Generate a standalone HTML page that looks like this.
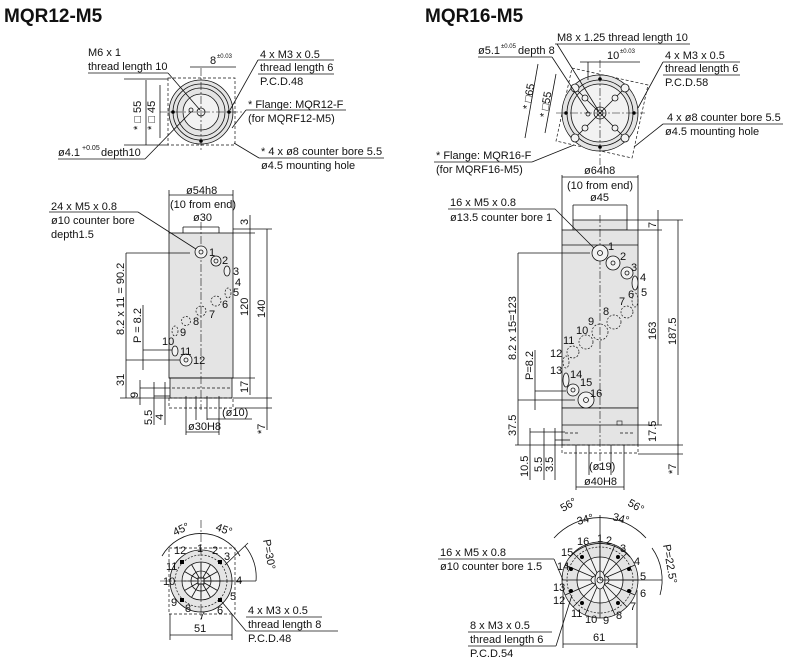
<!DOCTYPE html>
<html><head><meta charset="utf-8"><style>
html,body{margin:0;padding:0;background:#fff;}
svg{display:block;font-family:"Liberation Sans",sans-serif;}
text{font-size:11px;fill:#111;}
.t{font-size:19px;font-weight:bold;}
.l{stroke:#111;stroke-width:0.8;fill:none;}
.d{stroke:#111;stroke-width:0.7;fill:none;stroke-dasharray:3,2;}
.c{stroke:#111;stroke-width:0.6;fill:none;stroke-dasharray:8,2,2,2;}
.g{fill:#e4e4e4;stroke:#111;stroke-width:0.8;}
.h{fill:#f2f2f2;stroke:#111;stroke-width:0.8;}
.hd{fill:none;stroke:#111;stroke-width:0.7;stroke-dasharray:2,1.5;}
</style></head><body>
<svg width="794" height="667" viewBox="0 0 794 667" xmlns="http://www.w3.org/2000/svg">
<text class="t" x="4" y="22">MQR12-M5</text>
<text class="t" x="425" y="22">MQR16-M5</text>

<!-- ===== LEFT TOP VIEW ===== -->
<rect class="d" x="168" y="78" width="67" height="67"/>
<circle class="g" cx="201" cy="112" r="32"/>
<circle class="l" cx="201" cy="112" r="28"/>
<circle class="l" cx="201" cy="112" r="24"/>
<circle class="h" cx="201" cy="112" r="18"/>
<circle class="l" cx="201" cy="112" r="4"/>
<circle class="l" cx="191" cy="110" r="2"/>
<line class="c" x1="160" y1="112" x2="242" y2="112"/>
<line class="c" x1="201" y1="68" x2="201" y2="150"/>
<circle cx="173" cy="112" r="1.8"/><circle cx="229" cy="112" r="1.8"/><circle cx="201" cy="141" r="1.8"/>
<text x="88" y="56">M6 x 1</text><text x="88" y="70">thread length 10</text>
<line class="l" x1="88" y1="73" x2="168" y2="73"/><line class="l" x1="168" y1="73" x2="200" y2="110"/>
<text x="210" y="64">8</text><text x="217" y="58" style="font-size:6px">±0.03</text>
<line class="l" x1="190" y1="67" x2="236" y2="67"/>
<text x="260" y="58">4 x M3 x 0.5</text><text x="260" y="71">thread length 6</text><text x="260" y="85">P.C.D.48</text>
<line class="l" x1="258" y1="60" x2="334" y2="60"/><line class="l" x1="258" y1="74" x2="334" y2="74"/><line class="l" x1="258" y1="60" x2="230" y2="110"/>
<text x="248" y="108">* Flange: MQR12-F</text><text x="248" y="122">(for MQRF12-M5)</text>
<line class="l" x1="246" y1="110" x2="346" y2="110"/><line class="l" x1="246" y1="110" x2="232" y2="128"/>
<text x="58" y="156">ø4.1</text><text x="82" y="150" style="font-size:7px">+0.05</text><text x="101" y="156">depth10</text>
<line class="l" x1="58" y1="159" x2="145" y2="159"/><line class="l" x1="145" y1="159" x2="191" y2="112"/>
<text x="261" y="155">* 4 x ø8 counter bore 5.5</text><text x="261" y="169">ø4.5 mounting hole</text>
<line class="l" x1="259" y1="158" x2="384" y2="158"/><line class="l" x1="259" y1="158" x2="234" y2="143"/>
<line class="l" x1="146" y1="80" x2="146" y2="145"/><line class="l" x1="160" y1="85" x2="160" y2="138"/>
<line class="l" x1="124" y1="79" x2="168" y2="79"/><line class="l" x1="124" y1="145" x2="168" y2="145"/>
<text transform="translate(141,130) rotate(-90)">* □ 55</text>
<text transform="translate(155,130) rotate(-90)">* □ 45</text>

<!-- ===== LEFT FRONT VIEW ===== -->
<rect class="g" x="169" y="233" width="64" height="145"/>
<rect class="g" x="170" y="378" width="62" height="20"/>
<line class="l" x1="169" y1="378" x2="233" y2="378"/>
<rect class="d" x="169" y="398" width="64" height="10"/>
<line class="d" x1="172" y1="388" x2="230" y2="388"/>
<line class="c" x1="201" y1="222" x2="201" y2="410"/>
<line class="l" x1="169" y1="190" x2="169" y2="233"/><line class="l" x1="233" y1="190" x2="233" y2="233"/>
<line class="l" x1="169" y1="195" x2="233" y2="195"/>
<text x="186" y="194">ø54h8</text><text x="170" y="208">(10 from end)</text><text x="193" y="221">ø30</text>
<line class="l" x1="183" y1="227" x2="219" y2="227"/><line class="l" x1="183" y1="227" x2="183" y2="233"/><line class="l" x1="219" y1="227" x2="219" y2="233"/>
<text x="51" y="210">24 x M5 x 0.8</text><text x="51" y="224">ø10 counter bore</text><text x="51" y="238">depth1.5</text>
<line class="l" x1="49" y1="212" x2="138" y2="212"/><line class="l" x1="138" y1="212" x2="199" y2="251"/>
<g>
<circle class="h" cx="201" cy="252" r="6"/><circle class="l" cx="201" cy="252" r="2"/>
<circle class="h" cx="216" cy="261" r="5"/><circle class="l" cx="216" cy="261" r="2"/>
<ellipse class="h" cx="227" cy="271" rx="3" ry="5"/><ellipse class="hd" cx="228" cy="293" rx="3" ry="5"/>
<circle class="hd" cx="216" cy="301" r="5"/><circle class="hd" cx="201" cy="311" r="5"/>
<circle class="hd" cx="186" cy="321" r="4.5"/><ellipse class="hd" cx="175" cy="331" rx="3" ry="5"/>
<ellipse class="h" cx="175" cy="351" rx="3" ry="5"/>
<circle class="h" cx="186" cy="360" r="6"/><circle class="l" cx="186" cy="360" r="2"/>
</g>
<text x="209" y="256">1</text><text x="222" y="264">2</text><text x="233" y="275">3</text><text x="235" y="286">4</text>
<text x="233" y="296">5</text><text x="222" y="308">6</text><text x="209" y="318">7</text><text x="193" y="325">8</text>
<text x="180" y="336">9</text><text x="162" y="345">10</text><text x="180" y="355">11</text><text x="193" y="364">12</text>
<!-- right dims -->
<line class="l" x1="233" y1="233" x2="255" y2="233"/><line class="l" x1="233" y1="229" x2="272" y2="229"/>
<line class="l" x1="250" y1="233" x2="250" y2="378"/><line class="l" x1="267" y1="229" x2="267" y2="398"/>
<line class="l" x1="233" y1="378" x2="255" y2="378"/><line class="l" x1="233" y1="398" x2="272" y2="398"/>
<line class="l" x1="250" y1="215" x2="250" y2="233"/><line class="l" x1="250" y1="378" x2="250" y2="395"/>
<line class="l" x1="267" y1="398" x2="267" y2="430"/><line class="l" x1="235" y1="408" x2="272" y2="408"/>
<text transform="translate(248,225) rotate(-90)">3</text>
<text transform="translate(248,316) rotate(-90)">120</text>
<text transform="translate(265,318) rotate(-90)">140</text>
<text transform="translate(248,393) rotate(-90)">17</text>
<text transform="translate(265,434) rotate(-90)">*7</text>
<!-- left dims -->
<line class="l" x1="126" y1="253" x2="190" y2="253"/><line class="l" x1="126" y1="253" x2="126" y2="398"/>
<line class="l" x1="126" y1="360" x2="180" y2="360"/>
<line class="l" x1="143" y1="305" x2="143" y2="370"/><line class="l" x1="143" y1="350" x2="172" y2="350"/>
<line class="l" x1="120" y1="398" x2="169" y2="398"/>
<text transform="translate(124,335) rotate(-90)">8.2 x 11 = 90.2</text>
<text transform="translate(141,343) rotate(-90)">P = 8.2</text>
<text transform="translate(124,386) rotate(-90)">31</text>
<line class="l" x1="140" y1="380" x2="140" y2="405"/><line class="l" x1="140" y1="388" x2="170" y2="388"/>
<line class="l" x1="154" y1="382" x2="154" y2="425"/><line class="l" x1="165" y1="382" x2="165" y2="425"/>
<line class="l" x1="154" y1="396" x2="170" y2="396"/>
<text transform="translate(138,398) rotate(-90)">9</text>
<text transform="translate(152,425) rotate(-90)">5.5</text>
<text transform="translate(163,420) rotate(-90)">4</text>
<line class="l" x1="186" y1="396" x2="186" y2="435"/><line class="l" x1="219" y1="396" x2="219" y2="435"/>
<line class="l" x1="186" y1="432" x2="219" y2="432"/>
<text x="188" y="430">ø30H8</text>
<line class="l" x1="196" y1="396" x2="196" y2="420"/><line class="l" x1="207" y1="396" x2="207" y2="420"/>
<line class="l" x1="207" y1="419" x2="252" y2="419"/>
<text x="222" y="416">(ø10)</text>

<!-- ===== LEFT BOTTOM VIEW ===== -->
<rect class="d" x="169" y="548" width="66" height="66"/>
<circle class="g" cx="201" cy="581" r="31"/>
<circle class="hd" cx="201" cy="581" r="26"/>
<circle class="h" cx="201" cy="581" r="19"/>
<circle class="l" cx="201" cy="581" r="10"/>
<g class="l">
<line x1="182" y1="581" x2="220" y2="581"/><line x1="201" y1="562" x2="201" y2="600"/>
<line x1="184.5" y1="571.5" x2="217.5" y2="590.5"/><line x1="184.5" y1="590.5" x2="217.5" y2="571.5"/>
<line x1="191.5" y1="564.5" x2="210.5" y2="597.5"/><line x1="191.5" y1="597.5" x2="210.5" y2="564.5"/>
</g>
<rect x="198" y="578" width="6" height="6" fill="#fff" stroke="#111" stroke-width="1"/>
<rect x="180" y="560" width="4" height="4"/><rect x="218" y="560" width="4" height="4"/>
<rect x="180" y="598" width="4" height="4"/><rect x="218" y="598" width="4" height="4"/>
<line class="c" x1="160" y1="581" x2="242" y2="581"/><line class="c" x1="201" y1="520" x2="201" y2="620"/>
<path class="l" d="M162,556 A45,45 0 0 1 240,556"/>
<path class="l" d="M245,546 A48,48 0 0 1 256,581"/>
<line class="l" x1="201" y1="581" x2="256" y2="581"/><line class="l" x1="225" y1="565" x2="248" y2="543"/>
<text transform="translate(175,536) rotate(-25)">45°</text>
<text transform="translate(215,530) rotate(20)">45°</text>
<text transform="translate(263,540) rotate(80)">P=30°</text>
<text x="197" y="552">1</text><text x="212" y="554">2</text><text x="224" y="560">3</text><text x="236" y="584">4</text>
<text x="230" y="600">5</text><text x="217" y="614">6</text><text x="199" y="619">7</text><text x="185" y="612">8</text>
<text x="171" y="606">9</text><text x="163" y="585">10</text><text x="166" y="570">11</text><text x="174" y="554">12</text>
<line class="l" x1="170" y1="614" x2="170" y2="640"/><line class="l" x1="232" y1="614" x2="232" y2="640"/>
<line class="l" x1="170" y1="635" x2="232" y2="635"/>
<text x="194" y="632">51</text>
<text x="248" y="614">4 x M3 x 0.5</text><text x="248" y="628">thread length 8</text><text x="248" y="642">P.C.D.48</text>
<line class="l" x1="246" y1="617" x2="322" y2="617"/><line class="l" x1="246" y1="631" x2="338" y2="631"/><line class="l" x1="246" y1="631" x2="222" y2="602"/>

<!-- ===== RIGHT TOP VIEW ===== -->
<polygon class="d" points="572,68 648,85 632,158 556,141"/>
<circle class="g" cx="600" cy="113" r="38"/>
<circle class="l" cx="600" cy="113" r="33"/>
<circle class="h" cx="600" cy="113" r="29"/>
<circle class="l" cx="600" cy="113" r="6"/><circle class="l" cx="600" cy="113" r="3"/>
<circle class="l" cx="588" cy="114" r="2"/>
<line class="c" x1="556" y1="113" x2="645" y2="113"/><line class="c" x1="600" y1="60" x2="600" y2="165"/>
<line class="l" x1="575" y1="88" x2="625" y2="138"/><line class="l" x1="625" y1="88" x2="575" y2="138"/>
<g class="h"><circle cx="575" cy="88" r="4"/><circle cx="625" cy="88" r="4"/><circle cx="575" cy="138" r="4"/><circle cx="625" cy="138" r="4"/>
<circle cx="585" cy="98" r="3"/><circle cx="615" cy="98" r="3"/><circle cx="585" cy="128" r="3"/><circle cx="615" cy="128" r="3"/></g>
<circle cx="600" cy="79" r="1.8"/><circle cx="600" cy="147" r="1.8"/><circle cx="566" cy="113" r="1.8"/><circle cx="634" cy="113" r="1.8"/>
<text x="557" y="41">M8 x 1.25 thread length 10</text>
<line class="l" x1="555" y1="44" x2="690" y2="44"/><line class="l" x1="557" y1="44" x2="598" y2="110"/>
<text x="478" y="54">ø5.1</text><text x="501" y="48" style="font-size:6px">±0.05</text><text x="518" y="54">depth 8</text>
<line class="l" x1="478" y1="57" x2="552" y2="57"/><line class="l" x1="552" y1="57" x2="588" y2="112"/>
<text x="607" y="59">10</text><text x="620" y="53" style="font-size:6px">±0.03</text>
<line class="l" x1="580" y1="62" x2="640" y2="62"/><line class="l" x1="588" y1="62" x2="588" y2="80"/>
<text x="665" y="59">4 x M3 x 0.5</text><text x="665" y="72">thread length 6</text><text x="665" y="86">P.C.D.58</text>
<line class="l" x1="663" y1="62" x2="740" y2="62"/><line class="l" x1="663" y1="75" x2="740" y2="75"/><line class="l" x1="663" y1="62" x2="638" y2="108"/>
<text x="667" y="121">4 x ø8 counter bore 5.5</text><text x="665" y="135">ø4.5 mounting hole</text>
<line class="l" x1="663" y1="124" x2="783" y2="124"/><line class="l" x1="663" y1="124" x2="634" y2="147"/>
<text x="436" y="159">* Flange: MQR16-F</text><text x="436" y="173">(for MQRF16-M5)</text>
<line class="l" x1="434" y1="162" x2="532" y2="162"/><line class="l" x1="532" y1="162" x2="574" y2="145"/>
<line class="l" x1="538" y1="64" x2="525" y2="138"/><line class="l" x1="556" y1="74" x2="545" y2="133"/>
<text transform="translate(530,110) rotate(-80)">* □65</text>
<text transform="translate(547,118) rotate(-80)">* □55</text>

<!-- ===== RIGHT FRONT VIEW ===== -->
<rect class="g" x="573" y="220" width="54" height="10"/>
<rect class="g" x="562" y="230" width="76" height="178"/>
<rect class="g" x="562" y="408" width="76" height="37"/>
<line class="l" x1="562" y1="425" x2="638" y2="425"/>
<line class="l" x1="562" y1="245" x2="638" y2="245"/>
<rect class="d" x="562" y="445" width="76" height="8"/>
<line class="d" x1="565" y1="433" x2="580" y2="433"/><line class="d" x1="620" y1="433" x2="635" y2="433"/>
<rect x="617" y="421" width="5" height="4" fill="none" stroke="#111" stroke-width="0.6"/>
<line class="c" x1="600" y1="215" x2="600" y2="470"/>
<line class="l" x1="562" y1="175" x2="562" y2="230"/><line class="l" x1="638" y1="175" x2="638" y2="230"/>
<line class="l" x1="562" y1="177" x2="638" y2="177"/>
<text x="584" y="174">ø64h8</text><text x="567" y="189">(10 from end)</text><text x="590" y="201">ø45</text>
<line class="l" x1="573" y1="205" x2="627" y2="205"/><line class="l" x1="573" y1="205" x2="573" y2="220"/><line class="l" x1="627" y1="205" x2="627" y2="220"/>
<text x="450" y="206">16 x M5 x 0.8</text><text x="450" y="221">ø13.5 counter bore 1</text>
<line class="l" x1="448" y1="209" x2="555" y2="209"/><line class="l" x1="555" y1="209" x2="597" y2="251"/>
<g>
<circle class="h" cx="600" cy="253" r="8"/><circle class="l" cx="600" cy="253" r="2.5"/>
<circle class="h" cx="613" cy="263" r="7"/><circle class="l" cx="613" cy="263" r="2"/>
<circle class="h" cx="627" cy="273" r="6"/><circle class="l" cx="627" cy="273" r="2"/>
<ellipse class="h" cx="635" cy="283" rx="3" ry="7"/>
<ellipse class="hd" cx="635" cy="300" rx="3" ry="7"/>
<circle class="hd" cx="627" cy="312" r="6"/><circle class="hd" cx="614" cy="322" r="7"/>
<circle class="hd" cx="600" cy="332" r="8"/><circle class="hd" cx="586" cy="342" r="7"/>
<circle class="hd" cx="573" cy="352" r="6"/><ellipse class="hd" cx="566" cy="362" rx="3" ry="6"/>
<ellipse class="h" cx="566" cy="380" rx="3" ry="7"/>
<circle class="h" cx="573" cy="390" r="6"/><circle class="l" cx="573" cy="390" r="2"/>
<circle class="h" cx="586" cy="400" r="8"/><circle class="l" cx="586" cy="400" r="2.5"/>
</g>
<text x="608" y="250">1</text><text x="620" y="260">2</text><text x="631" y="271">3</text><text x="640" y="281">4</text>
<text x="641" y="296">5</text><text x="628" y="298">6</text><text x="619" y="305">7</text><text x="603" y="315">8</text>
<text x="588" y="325">9</text><text x="576" y="334">10</text><text x="563" y="344">11</text><text x="550" y="357">12</text>
<text x="550" y="374">13</text><text x="570" y="378">14</text><text x="580" y="386">15</text><text x="590" y="397">16</text>
<!-- right dims -->
<line class="l" x1="627" y1="220" x2="683" y2="220"/><line class="l" x1="638" y1="230" x2="662" y2="230"/>
<line class="l" x1="658" y1="210" x2="658" y2="425"/><line class="l" x1="678" y1="220" x2="678" y2="445"/>
<line class="l" x1="638" y1="425" x2="662" y2="425"/><line class="l" x1="638" y1="445" x2="683" y2="445"/>
<line class="l" x1="638" y1="454" x2="683" y2="454"/><line class="l" x1="678" y1="445" x2="678" y2="475"/>
<text transform="translate(656,228) rotate(-90)">7</text>
<text transform="translate(656,340) rotate(-90)">163</text>
<text transform="translate(676,345) rotate(-90)">187.5</text>
<text transform="translate(656,442) rotate(-90)">17.5</text>
<text transform="translate(676,474) rotate(-90)">*7</text>
<!-- left dims -->
<line class="l" x1="518" y1="253" x2="590" y2="253"/><line class="l" x1="518" y1="253" x2="518" y2="445"/>
<line class="l" x1="518" y1="400" x2="575" y2="400"/>
<line class="l" x1="535" y1="350" x2="535" y2="410"/><line class="l" x1="535" y1="391" x2="566" y2="391"/>
<line class="l" x1="515" y1="445" x2="562" y2="445"/>
<text transform="translate(516,360) rotate(-90)">8.2 x 15=123</text>
<text transform="translate(533,380) rotate(-90)">P=8.2</text>
<text transform="translate(516,436) rotate(-90)">37.5</text>
<line class="l" x1="530" y1="428" x2="530" y2="480"/><line class="l" x1="544" y1="428" x2="544" y2="480"/>
<line class="l" x1="555" y1="428" x2="555" y2="480"/>
<line class="l" x1="530" y1="432" x2="565" y2="432"/><line class="l" x1="555" y1="440" x2="570" y2="440"/>
<text transform="translate(528,477) rotate(-90)">10.5</text>
<text transform="translate(542,472) rotate(-90)">5.5</text>
<text transform="translate(553,472) rotate(-90)">3.5</text>
<line class="l" x1="589" y1="445" x2="589" y2="475"/><line class="l" x1="611" y1="445" x2="611" y2="475"/>
<text x="589" y="470">(ø19)</text>
<line class="l" x1="576" y1="445" x2="576" y2="490"/><line class="l" x1="624" y1="445" x2="624" y2="490"/>
<line class="l" x1="576" y1="487" x2="624" y2="487"/>
<text x="584" y="485">ø40H8</text>

<!-- ===== RIGHT BOTTOM VIEW ===== -->
<circle class="g" cx="600" cy="580" r="38"/>
<circle class="hd" cx="600" cy="580" r="33"/>
<circle class="h" cx="600" cy="580" r="23"/>
<g class="l">
<line x1="562" y1="580" x2="638" y2="580"/><line x1="600" y1="542" x2="600" y2="618"/>
<line x1="565" y1="565" x2="635" y2="595"/><line x1="565" y1="595" x2="635" y2="565"/>
<line x1="573" y1="553" x2="627" y2="607"/><line x1="573" y1="607" x2="627" y2="553"/>
<line x1="585" y1="545" x2="615" y2="615"/><line x1="585" y1="615" x2="615" y2="545"/>
</g>
<ellipse class="h" cx="600" cy="580" rx="9" ry="5"/><ellipse class="h" cx="600" cy="580" rx="5" ry="9"/>
<circle class="l" cx="600" cy="580" r="3"/>
<g><circle cx="582" cy="557" r="2"/><circle cx="618" cy="557" r="2"/><circle cx="582" cy="603" r="2"/><circle cx="618" cy="603" r="2"/>
<circle cx="571" cy="569" r="2"/><circle cx="629" cy="569" r="2"/><circle cx="571" cy="591" r="2"/><circle cx="629" cy="591" r="2"/></g>
<path class="l" d="M554,538 A62,62 0 0 1 646,538"/>
<path class="l" d="M570,557 A40,40 0 0 1 630,557"/>
<line class="l" x1="600" y1="515" x2="600" y2="580"/>
<path class="l" d="M652,548 A55,55 0 0 1 660,595"/>
<line class="l" x1="600" y1="580" x2="662" y2="580"/>
<text transform="translate(563,512) rotate(-30)">56°</text>
<text transform="translate(627,505) rotate(30)">56°</text>
<text transform="translate(578,525) rotate(-15)">34°</text>
<text transform="translate(612,520) rotate(15)">34°</text>
<text transform="translate(663,545) rotate(80)">P=22.5°</text>
<text x="597" y="542">1</text><text x="606" y="544">2</text><text x="620" y="552">3</text><text x="634" y="565">4</text>
<text x="640" y="580">5</text><text x="640" y="597">6</text><text x="630" y="610">7</text><text x="616" y="619">8</text>
<text x="603" y="624">9</text><text x="585" y="623">10</text><text x="571" y="617">11</text><text x="553" y="604">12</text>
<text x="553" y="591">13</text><text x="557" y="570">14</text><text x="561" y="556">15</text><text x="577" y="545">16</text>
<text x="440" y="556">16 x M5 x 0.8</text><text x="440" y="570">ø10 counter bore 1.5</text>
<line class="l" x1="438" y1="559" x2="554" y2="559"/><line class="l" x1="554" y1="559" x2="563" y2="580"/>
<text x="470" y="629">8 x M3 x 0.5</text><text x="470" y="643">thread length 6</text><text x="470" y="657">P.C.D.54</text>
<line class="l" x1="468" y1="632" x2="552" y2="632"/><line class="l" x1="468" y1="646" x2="556" y2="646"/>
<line class="l" x1="556" y1="646" x2="572" y2="595"/>
<line class="l" x1="563" y1="590" x2="563" y2="648"/><line class="l" x1="637" y1="590" x2="637" y2="648"/>
<line class="l" x1="563" y1="644" x2="637" y2="644"/>
<text x="593" y="641">61</text>
</svg>
</body></html>
